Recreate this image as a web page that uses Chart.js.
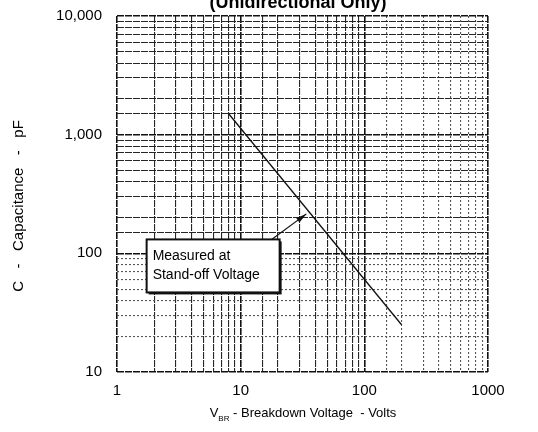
<!DOCTYPE html>
<html>
<head>
<meta charset="utf-8">
<script src="https://cdn.jsdelivr.net/npm/chart.js@4.4.0/dist/chart.umd.min.js"></script>
<style>
html, body { margin: 0; padding: 0; background: #fff; }
#wrap { width: 538px; height: 432px; }
</style>
</head>
<body>
<div id="wrap"><canvas id="capChart" width="538" height="432"></canvas></div>
<script>
// Capacitance vs breakdown voltage
const breakdownVolts = [8, 200];
const capacitancePf = [1500, 25];

// callout arrow: tail sits on the box, tip on the curve
const arrowVolts = [17.8, 34];
const arrowPf = [131, 215];

const xTickLabels = [1, 10, 100, 1000];
const yTickLabels = [10, 100, 1000, 10000];
const titleText = '(Unidirectional Only)';
const calloutLines = ['Measured at', 'Stand-off Voltage'];

const FONT = '"Liberation Sans", Arial, sans-serif';

const isLabel = (list, v) => list.some(t => Math.abs(t - v) / t < 1e-6);
const decade = v => Math.abs(Math.log10(v) - Math.round(Math.log10(v))) < 1e-6;

// darker lines where the scan is darker, dotted where it is faint
const xFaint = v => !decade(v) && v > 100;
const yFaint = v => !decade(v) && v < 100;
const gridColor = faint => ctx => {
    const v = ctx.tick.value;
    if (decade(v)) return '#111';
    return faint(v) ? '#555' : '#262626';
};

const decor = {
    id: 'decor',
    afterDatasetsDraw(chart) {
        const c = chart.ctx;
        const xs = chart.scales.x, ys = chart.scales.y;
        c.save();

        // arrow from box to curve
        const tx = xs.getPixelForValue(arrowVolts[0]), ty = ys.getPixelForValue(arrowPf[0]);
        const hx = xs.getPixelForValue(arrowVolts[1]), hy = ys.getPixelForValue(arrowPf[1]);
        c.strokeStyle = '#111';
        c.lineWidth = 1.2;
        c.beginPath();
        c.moveTo(tx, ty);
        c.lineTo(hx, hy);
        c.stroke();
        const ang = Math.atan2(hy - ty, hx - tx);
        c.fillStyle = '#111';
        c.beginPath();
        c.moveTo(hx, hy);
        c.lineTo(hx - 11 * Math.cos(ang - 0.25), hy - 11 * Math.sin(ang - 0.25));
        c.lineTo(hx - 11 * Math.cos(ang + 0.25), hy - 11 * Math.sin(ang + 0.25));
        c.closePath();
        c.fill();

        // callout box, hangs below-left of the arrow tail
        const bx = tx - 125, by = ty, bw = 133, bh = 53;
        c.fillStyle = '#111';
        c.fillRect(bx + 2, by + 2, bw, bh);
        c.fillStyle = '#fff';
        c.fillRect(bx, by, bw, bh);
        c.strokeStyle = '#111';
        c.lineWidth = 2;
        c.strokeRect(bx, by, bw, bh);
        c.fillStyle = '#000';
        c.font = '14px ' + FONT;
        c.textAlign = 'left';
        c.textBaseline = 'alphabetic';
        c.fillText(calloutLines[0], bx + 6, by + 21);
        c.fillText(calloutLines[1], bx + 6, by + 40);

        // top title, clipped by the page edge like the scan
        c.font = 'bold 18px ' + FONT;
        c.textAlign = 'center';
        c.fillText(titleText, 298, 8);

        // x axis title with subscript
        const parts = [['V', '13px ', 0], ['BR', '8px ', 4], [' - Breakdown Voltage  - Volts', '13px ', 0]];
        let total = 0;
        parts.forEach(p => { c.font = p[1] + FONT; total += c.measureText(p[0]).width; });
        let x = 303 - total / 2;
        c.textAlign = 'left';
        parts.forEach(p => {
            c.font = p[1] + FONT;
            c.fillText(p[0], x, 417 + p[2]);
            x += c.measureText(p[0]).width;
        });

        // y axis title
        c.translate(19, 206);
        c.rotate(-Math.PI / 2);
        c.font = '15px ' + FONT;
        c.textAlign = 'center';
        c.textBaseline = 'middle';
        c.fillText('C   -   Capacitance   -   pF', 0, 0);
        c.restore();
    }
};

const ctx = document.getElementById('capChart').getContext('2d');
const capChart = new Chart(ctx, {
    type: 'line',
    data: {
        datasets: [{
            data: breakdownVolts.map((v, i) => ({ x: v, y: capacitancePf[i] })),
            borderColor: '#111',
            borderWidth: 1.3,
            pointRadius: 0,
            fill: false,
            tension: 0
        }]
    },
    options: {
        responsive: false,
        animation: false,
        layout: { padding: { top: 16, right: 50, bottom: 0, left: 0 } },
        plugins: { legend: { display: false }, tooltip: { enabled: false } },
        scales: {
            x: {
                type: 'logarithmic',
                min: 1,
                max: 1000,
                afterFit: s => { s.height = 60; },
                grid: {
                    color: gridColor(xFaint),
                    lineWidth: ctx => decade(ctx.tick.value) ? 1.6 : 1.1,
                    drawTicks: false
                },
                border: {
                    display: false,
                    dash: ctx => xFaint(ctx.tick.value) ? [2, 2] : [7, 1]
                },
                ticks: {
                    autoSkip: false,
                    maxRotation: 0,
                    padding: 10,
                    color: '#000',
                    font: { family: FONT, size: 15 },
                    callback: v => isLabel(xTickLabels, v) ? String(v) : ''
                }
            },
            y: {
                type: 'logarithmic',
                min: 10,
                max: 10000,
                afterFit: s => { s.width = 117; s.paddingTop = 0; s.paddingBottom = 0; },
                grid: {
                    color: gridColor(yFaint),
                    lineWidth: ctx => decade(ctx.tick.value) ? 1.6 : 1.1,
                    drawTicks: false
                },
                border: {
                    display: false,
                    dash: ctx => yFaint(ctx.tick.value) ? [2, 2] : [7, 1]
                },
                ticks: {
                    autoSkip: false,
                    padding: 15,
                    color: '#000',
                    font: { family: FONT, size: 15 },
                    callback: v => isLabel(yTickLabels, v) ? v.toLocaleString('en-US') : ''
                }
            }
        }
    },
    plugins: [decor]
});
</script>
</body>
</html>
